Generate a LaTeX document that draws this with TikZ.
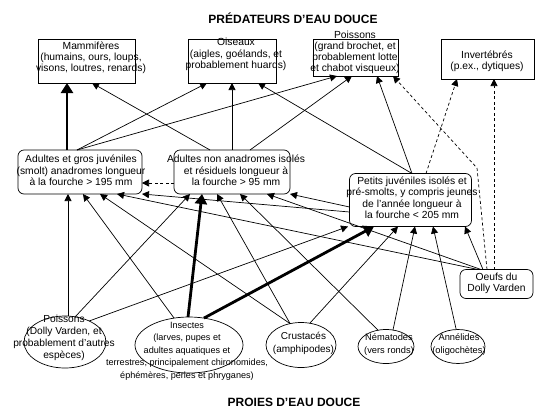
\documentclass[tikz,border=0pt]{standalone}
\usepackage{fontspec}
\setmainfont{Liberation Sans}
\usetikzlibrary{arrows.meta,shapes.geometric}
\newcommand\tb[5]{\smash{\makebox[0pt]{\hspace*{#1pt}\raisebox{\dimexpr(\depth-\height)/2+#2pt\relax}{\fontsize{#3}{#4}\selectfont\begin{tabular}{@{}c@{}}#5\end{tabular}}}}}
\tikzset{
 pbox/.style={draw, line width=.7pt, rectangle, inner sep=0pt, outer sep=0pt},
 rbox/.style={pbox, rounded corners=6pt},
 ell/.style={draw, line width=.7pt, ellipse, inner sep=0pt, outer sep=0pt},
 ar/.style={line width=.7pt, -{Triangle[length=7pt,width=7pt]}},
 tk/.style={line width=2.8pt, -{Triangle[length=10pt,width=12pt]}},
 dar/.style={ar, dash pattern=on 3pt off 2.5pt},
 ttl/.style={font=\bfseries\fontsize{12}{14}\selectfont, inner sep=0pt},
}
\begin{document}
\begin{tikzpicture}[x=1pt,y=-1pt]
\fill[white] (0,0) rectangle (546,410);
\useasboundingbox (0,0) rectangle (546,410);
% titles
\node[ttl] (tP) at (293,18) {PRÉDATEURS D’EAU DOUCE};
\node[ttl] (tQ) at (294,402) {PROIES D’EAU DOUCE};
% predators
\node[pbox, minimum width=97pt, minimum height=44pt] (mam) at (86.5,61) {\tb{9}{2.8}{10.3}{11.3}{Mammifères\\(humains, ours, loups,\\visons, loutres, renards)}};
\node[pbox, minimum width=88pt, minimum height=44pt] (ois) at (232,61) {\tb{8}{6.3}{10.3}{11.5}{Oiseaux\\(aigles, goélands, et\\probablement huards)}};
\node[pbox, minimum width=85pt, minimum height=37pt] (poi) at (355.5,57.5) {\tb{-1}{4.8}{10.3}{11.2}{Poissons\\(grand brochet, et\\probablement lotte\\et chabot visqueux)}};
\node[pbox, minimum width=93pt, minimum height=40pt] (inv) at (487.5,59) {\tb{-1}{-2.7}{10.3}{11.3}{Invertébrés\\(p.ex., dytiques)}};
% Dolly Varden stages
\node[rbox, minimum width=124pt, minimum height=44pt] (adu) at (80,172) {\tb{2}{0.3}{10.3}{11.5}{Adultes et gros juvéniles\\(smolt) anadromes longueur\\à la fourche > 195 mm}};
\node[rbox, minimum width=116pt, minimum height=44pt] (adn) at (232,172) {\tb{8}{0.3}{10.3}{11.5}{Adultes non anadromes isolés\\et résiduels longueur à\\la fourche > 95 mm}};
\node[rbox, minimum width=122pt, minimum height=53pt] (pj) at (410.5,200) {\tb{3}{0.8}{10.3}{11.5}{Petits juvéniles isolés et\\pré-smolts, y compris jeunes\\de l'année longueur à\\la fourche < 205 mm}};
\node[rbox, minimum width=73pt, minimum height=29pt] (oeu) at (496.5,284) {\tb{0}{0.5}{10.3}{11.5}{Oeufs du\\Dolly Varden}};
% prey
\node[ell, minimum width=82pt, minimum height=52pt] (pf) at (65,342) {\tb{-2}{3.8}{10.2}{12}{Poissons\\(Dolly Varden, et\\probablement d'autres\\espèces)}};
\node[ell, minimum width=108pt, minimum height=56pt] (ins) at (189,345) {\tb{-4}{-5.7}{9.1}{12.6}{Insectes\\(larves, pupes et\\adultes aquatiques et\\terrestres, principalement chironomides,\\éphémères, perles et phryganes)}};
\node[ell, minimum width=70pt, minimum height=45pt] (cru) at (301,345) {\tb{5}{1.2}{10}{12.7}{Crustacés\\(amphipodes)}};
\node[ell, minimum width=56pt, minimum height=34pt] (nem) at (386,346.5) {\tb{6}{1.8}{9.3}{13}{Nématodes\\(vers ronds)}};
\node[ell, minimum width=54pt, minimum height=34pt] (ann) at (458,346.5) {\tb{2}{1.8}{9.3}{13}{Annélides\\(oligochètes)}};
% predation links
\draw[tk] (adu.north -| 67,0) -- (mam.south -| 67,0);
\draw[ar] (adn.north -| 210,0) -- (mam.south -| 92,0);
\draw[ar] (adu.north -| 77,0) -- (ois.south -| 207,0);
\draw[ar] (adn.north) -- (ois.south);
\draw[ar] (pj.north -| 412,0) -- (ois.south -| 258,0);
\draw[ar] (adu.north -| 77,0) -- (poi.south -| 337,0);
\draw[ar] (adn.north -| 250,0) -- (poi.south -| 352,0);
\draw[ar] (pj.north -| 412,0) -- (poi.south -| 377,0);
\coordinate (bend) at (477,168);
\draw[dar] (oeu.north -| 487,0) -- (bend) -- (poi.south -| 393,0);
\draw[dar] (pj.north -| 426,0) -- (inv.south -| 457,0);
\draw[dar] (oeu.north -| 494,0) -- (inv.south -| 494,0);
% among stages
\draw[dar] (adn.west |- 0,183) -- (adu.east |- 0,183);
\draw[ar] (pj.west |- 0,212) -- (adu.south east);
\draw[ar] (pj.west |- 0,207) -- (adn.south east);
% prey links
\draw[ar] (pf.north -| 68,0) -- (adu.south -| 68,0);
\draw[ar] (pf.68) -- (adn.south -| 190,0);
\draw[ar] (pf.41) -- (pj.south -| 348,0);
\draw[ar] (ins.119) -- (adu.south -| 83,0);
\draw[tk] (ins.92) -- (adn.south -| 202,0);
\draw[tk] (ins.61) -- (pj.south -| 374,0);
\draw[ar] (cru.117) -- (adu.south -| 100,0);
\draw[ar] (cru.117) -- (adn.south -| 217,0);
\draw[ar] (cru.68) -- (pj.south -| 398,0);
\draw[ar] (nem.116) -- (adn.south -| 240,0);
\draw[ar] (nem.67) -- (pj.south -| 415,0);
\draw[ar] (ann.96) -- (pj.south -| 433,0);
\draw[ar] (oeu.north -| 478,0) -- (adu.south -| 117,0);
\draw[ar] (oeu.north -| 481,0) -- (adn.south -| 267,0);
\draw[ar] (oeu.north -| 483,0) -- (pj.south -| 465,0);
\end{tikzpicture}
\end{document}
